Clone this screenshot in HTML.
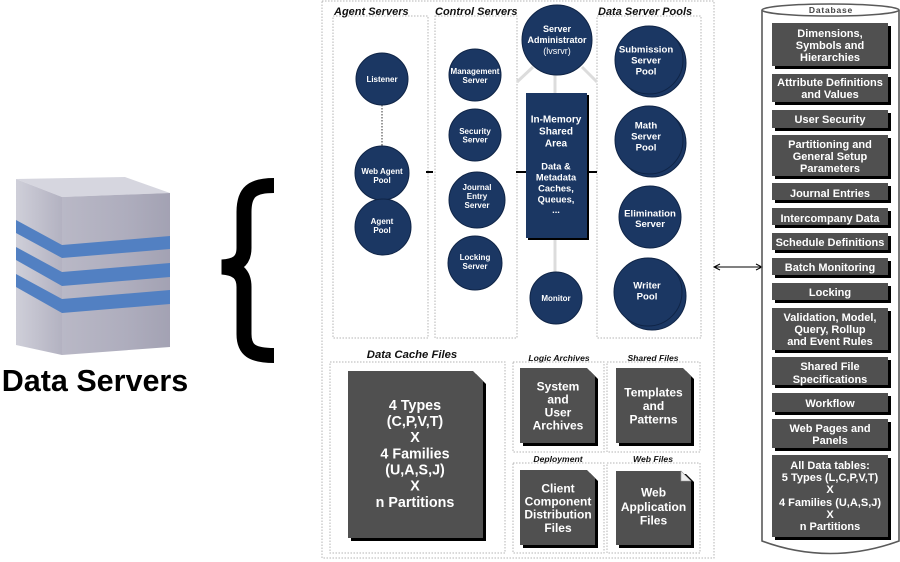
<!DOCTYPE html>
<html><head><meta charset="utf-8"><style>
html,body{margin:0;padding:0;background:#fff;}
svg{display:block;}
text{font-family:"Liberation Sans",Arial,sans-serif;}
</style></head><body>
<svg width="900" height="562" viewBox="0 0 900 562" xmlns="http://www.w3.org/2000/svg">
<defs>
<linearGradient id="rf" x1="0" y1="0" x2="1" y2="0"><stop offset="0" stop-color="#b9b8c6"/><stop offset="0.6" stop-color="#aeadbd"/><stop offset="1" stop-color="#a3a2b3"/></linearGradient>
<linearGradient id="lf" x1="0" y1="0" x2="1" y2="0"><stop offset="0" stop-color="#cfcfd9"/><stop offset="1" stop-color="#b3b2c1"/></linearGradient>
<linearGradient id="vf" x1="0" y1="0" x2="0" y2="1"><stop offset="0" stop-color="#000" stop-opacity="0"/><stop offset="1" stop-color="#000" stop-opacity="0.06"/></linearGradient>
</defs>

<!-- Cube -->
<polygon points="16,179 125,177 170,193 62,197" fill="#d6d6df"/>
<polygon points="16,179 62,197 62,355 16,345" fill="url(#lf)"/>
<polygon points="62,197 170,193 170,347 62,355" fill="url(#rf)"/>
<g fill="#5280c2">
<polygon points="62,245 170,236 170,249 62,258"/>
<polygon points="62,272 170,263 170,277 62,286"/>
<polygon points="62,299 170,290 170,304 62,313"/>
<polygon points="16,220 62,245 62,258 16,233"/>
<polygon points="16,247 62,272 62,286 16,260"/>
<polygon points="16,274 62,299 62,313 16,287"/>
</g>
<text x="95" y="391" font-size="30.5" font-weight="bold" text-anchor="middle" fill="#000">Data Servers</text>

<!-- Brace -->
<path d="M274 185.5 C252 185.5 244 192 244 212 L244 248 C244 261 237 266 222 267 C237 268 244 274 244 287 L244 334 C244 350 252 355.5 274 355.5" fill="none" stroke="#000" stroke-width="15"/>

<!-- Outer dotted boxes -->
<g fill="none" stroke="#b4b4b4" stroke-width="1" stroke-dasharray="1.5 1.5">
<rect x="322" y="1" width="392" height="557"/>
<rect x="333" y="16" width="95" height="322"/>
<rect x="435" y="16" width="82" height="322"/>
<rect x="597" y="16" width="104" height="322"/>
<rect x="330" y="362" width="175" height="191"/>
<rect x="513" y="362" width="91" height="90"/>
<rect x="607" y="362" width="93" height="90"/>
<rect x="513" y="463" width="91" height="90"/>
<rect x="607" y="463" width="93" height="90"/>
</g>

<!-- Titles -->
<g font-style="italic" font-weight="bold" fill="#111">
<text x="334" y="15" font-size="11">Agent Servers</text>
<text x="435" y="15" font-size="11">Control Servers</text>
<text x="598" y="15" font-size="11">Data Server Pools</text>
<text x="412" y="358" font-size="11.3" text-anchor="middle">Data Cache Files</text>
<text x="559" y="361" font-size="8.6" text-anchor="middle">Logic Archives</text>
<text x="653" y="361" font-size="8.6" text-anchor="middle">Shared Files</text>
<text x="558" y="462" font-size="8.6" text-anchor="middle">Deployment</text>
<text x="653" y="462" font-size="8.6" text-anchor="middle">Web Files</text>
</g>

<!-- light connectors from server admin -->
<g stroke="#dcdcdc" stroke-width="3" fill="none">
<line x1="555" y1="74" x2="555" y2="93"/>
<line x1="533" y1="67" x2="517" y2="82"/>
<line x1="582" y1="67" x2="597" y2="82"/>
<line x1="555" y1="240" x2="555" y2="272"/>
</g>

<!-- dotted connector listener - web agent -->
<line x1="382" y1="105" x2="382" y2="146" stroke="#333" stroke-width="1" stroke-dasharray="1.5 1.5"/>

<!-- black dashes -->
<g stroke="#000" stroke-width="2">
<line x1="426" y1="172" x2="433" y2="172"/>
<line x1="516" y1="172" x2="526" y2="172"/>
<line x1="588" y1="172" x2="597" y2="172"/>
</g>

<!-- Circles -->
<g fill="#1b3763" stroke="#0f2446" stroke-width="1">
<circle cx="382" cy="79" r="26"/>
<circle cx="382" cy="173" r="27"/>
<circle cx="383" cy="227" r="28"/>
<circle cx="475" cy="75" r="26"/>
<circle cx="475" cy="135" r="26"/>
<circle cx="477" cy="200" r="28"/>
<circle cx="475" cy="263" r="27"/>
<circle cx="557" cy="40" r="35"/>
<circle cx="556" cy="298" r="26"/>
<!-- stacked pools -->
<circle cx="652" cy="63" r="34"/>
<circle cx="649" cy="60" r="34"/>
<circle cx="652" cy="143" r="34"/>
<circle cx="649" cy="140" r="34"/>
<circle cx="650" cy="217" r="31"/>
<circle cx="652" cy="296" r="34"/>
<circle cx="648" cy="292" r="34"/>
</g>

<!-- In-memory box -->
<rect x="528" y="95" width="61" height="145" fill="#000"/>
<rect x="526" y="93" width="61" height="145" fill="#1b3763"/>

<!-- Circle text -->
<g fill="#fff" font-weight="bold" text-anchor="middle" font-size="8">
<text x="382" y="82">Listener</text>
<text x="382" y="174">Web Agent</text>
<text x="382" y="183">Pool</text>
<text x="382" y="224">Agent</text>
<text x="382" y="233">Pool</text>
<text x="475" y="74">Management</text>
<text x="475" y="83">Server</text>
<text x="475" y="134">Security</text>
<text x="475" y="142.5">Server</text>
<text x="477" y="190">Journal</text>
<text x="477" y="199">Entry</text>
<text x="477" y="208">Server</text>
<text x="475" y="260">Locking</text>
<text x="475" y="269">Server</text>
<text x="556" y="301">Monitor</text>
</g>
<g fill="#fff" font-weight="bold" text-anchor="middle" font-size="9">
<text x="557" y="32">Server</text>
<text x="557" y="43">Administrator</text>
<text x="557" y="54" font-weight="normal">(lvsrvr)</text>
</g>
<g fill="#fff" font-weight="bold" text-anchor="middle" font-size="9.6">
<text x="646" y="52.5">Submission</text>
<text x="646" y="63.5">Server</text>
<text x="646" y="74.5">Pool</text>
<text x="646" y="128.5">Math</text>
<text x="646" y="139.5">Server</text>
<text x="646" y="150.5">Pool</text>
<text x="650" y="216.5">Elimination</text>
<text x="650" y="227">Server</text>
<text x="647" y="288.5">Writer</text>
<text x="647" y="299.5">Pool</text>
</g>
<g fill="#fff" font-weight="bold" text-anchor="middle">
<text x="556" y="122.5" font-size="10">In-Memory</text>
<text x="556" y="134.5" font-size="10">Shared</text>
<text x="556" y="146.5" font-size="10">Area</text>
<text x="556" y="169.5" font-size="9.3">Data &amp;</text>
<text x="556" y="180.5" font-size="9.3">Metadata</text>
<text x="556" y="191.5" font-size="9.3">Caches,</text>
<text x="556" y="202.5" font-size="9.3">Queues,</text>
<text x="556" y="213" font-size="9.3">...</text>
</g>

<!-- Documents -->
<g>
<path d="M351 374 H476 L486 384 V541 H351 Z" fill="#000"/>
<path d="M348 371 H473 L483 381 V538 H348 Z" fill="#505050"/>
<path d="M523 371 H590 L598 379 V446 H523 Z" fill="#000"/>
<path d="M520 368 H587 L595 376 V443 H520 Z" fill="#505050"/>
<path d="M619 371 H686 L694 379 V446 H619 Z" fill="#000"/>
<path d="M616 368 H683 L691 376 V443 H616 Z" fill="#505050"/>
<path d="M523 473 H590 L598 481 V548 H523 Z" fill="#000"/>
<path d="M520 470 H587 L595 478 V545 H520 Z" fill="#505050"/>
<path d="M619 474 H686 L694 482 V548 H619 Z" fill="#000"/>
<path d="M616 471 H681 L691 481 V545 H616 Z" fill="#505050"/>
<path d="M681 471 L691 481 H681 Z" fill="#eee" stroke="#999" stroke-width="0.6"/>
</g>
<g fill="#fff" font-weight="bold" text-anchor="middle" font-size="14.3">
<text x="415" y="410">4 Types</text>
<text x="415" y="426">(C,P,V,T)</text>
<text x="415" y="442">X</text>
<text x="415" y="458.5">4 Families</text>
<text x="415" y="474.5">(U,A,S,J)</text>
<text x="415" y="490.5">X</text>
<text x="415" y="507">n Partitions</text>
</g>
<g fill="#fff" font-weight="bold" text-anchor="middle" font-size="12">
<text x="558" y="390.5">System</text>
<text x="558" y="403.5">and</text>
<text x="558" y="416.5">User</text>
<text x="558" y="429.5">Archives</text>
<text x="653.5" y="396.5">Templates</text>
<text x="653.5" y="410">and</text>
<text x="653.5" y="423.5">Patterns</text>
<text x="558" y="492.5">Client</text>
<text x="558" y="505.5">Component</text>
<text x="558" y="518.5">Distribution</text>
<text x="558" y="532">Files</text>
<text x="653.5" y="496.5">Web</text>
<text x="653.5" y="511">Application</text>
<text x="653.5" y="524.5">Files</text>
</g>

<!-- Arrow -->
<g stroke="#000" stroke-width="1" fill="none">
<line x1="714" y1="267" x2="762" y2="267"/>
<polyline points="720,264 714,267 720,270"/>
<polyline points="756,264 762,267 756,270"/>
</g>

<!-- Database cylinder -->
<g fill="none" stroke="#5a5a5a" stroke-width="1.6">
<path d="M762 10 V541 Q830 566 899 541 V10"/>
<ellipse cx="830.5" cy="10" rx="68.5" ry="6" fill="#fff"/>
</g>
<text x="831" y="13" font-size="8.5" font-weight="bold" fill="#444" text-anchor="middle" letter-spacing="0.8">Database</text>

<g fill="#000">
<rect x="775" y="26" width="116" height="43"/>
<rect x="775" y="77" width="116" height="28"/>
<rect x="775" y="113" width="116" height="18"/>
<rect x="775" y="138" width="116" height="41"/>
<rect x="775" y="186" width="116" height="17"/>
<rect x="775" y="211" width="116" height="17"/>
<rect x="775" y="236" width="116" height="17"/>
<rect x="775" y="261" width="116" height="17"/>
<rect x="775" y="286" width="116" height="17"/>
<rect x="775" y="311" width="116" height="42"/>
<rect x="775" y="360" width="116" height="28"/>
<rect x="775" y="396" width="116" height="19"/>
<rect x="775" y="422" width="116" height="29"/>
<rect x="775" y="458" width="116" height="82"/>
</g>
<g fill="#505050">
<rect x="772" y="23" width="116" height="43"/>
<rect x="772" y="74" width="116" height="28"/>
<rect x="772" y="110" width="116" height="18"/>
<rect x="772" y="135" width="116" height="41"/>
<rect x="772" y="183" width="116" height="17"/>
<rect x="772" y="208" width="116" height="17"/>
<rect x="772" y="233" width="116" height="17"/>
<rect x="772" y="258" width="116" height="17"/>
<rect x="772" y="283" width="116" height="17"/>
<rect x="772" y="308" width="116" height="42"/>
<rect x="772" y="357" width="116" height="28"/>
<rect x="772" y="393" width="116" height="19"/>
<rect x="772" y="419" width="116" height="29"/>
<rect x="772" y="455" width="116" height="82"/>
</g>
<g fill="#fff" font-weight="bold" text-anchor="middle" font-size="11">
<text x="830" y="37">Dimensions,</text>
<text x="830" y="49">Symbols and</text>
<text x="830" y="61">Hierarchies</text>
<text x="830" y="86">Attribute Definitions</text>
<text x="830" y="98">and Values</text>
<text x="830" y="123">User Security</text>
<text x="830" y="148">Partitioning and</text>
<text x="830" y="160">General Setup</text>
<text x="830" y="172">Parameters</text>
<text x="830" y="197">Journal Entries</text>
<text x="830" y="222">Intercompany Data</text>
<text x="830" y="246">Schedule Definitions</text>
<text x="830" y="271">Batch Monitoring</text>
<text x="830" y="296">Locking</text>
<text x="830" y="321">Validation, Model,</text>
<text x="830" y="333">Query, Rollup</text>
<text x="830" y="345">and Event Rules</text>
<text x="830" y="370">Shared File</text>
<text x="830" y="383">Specifications</text>
<text x="830" y="407">Workflow</text>
<text x="830" y="432">Web Pages and</text>
<text x="830" y="444">Panels</text>
<text x="830" y="469">All Data tables:</text>
<text x="830" y="481">5 Types (L,C,P,V,T)</text>
<text x="830" y="493">X</text>
<text x="830" y="506">4 Families (U,A,S,J)</text>
<text x="830" y="518">X</text>
<text x="830" y="530">n Partitions</text>
</g>
</svg>
</body></html>
